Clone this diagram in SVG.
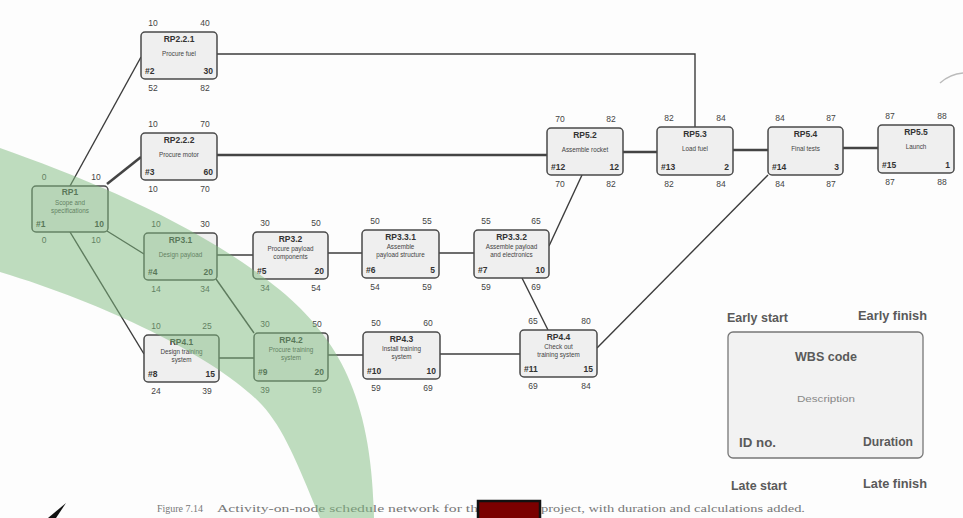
<svg xmlns="http://www.w3.org/2000/svg" width="963" height="518" viewBox="0 0 963 518">
<style>
.box{fill:#efefef;stroke:#4a4a4a;stroke-width:1.5}
.wbs{font-family:"Liberation Sans",Arial,sans-serif;font-size:8.5px;font-weight:bold;fill:#333;text-anchor:middle}
.desc{font-family:"Liberation Sans",Arial,sans-serif;font-size:6.3px;fill:#444;text-anchor:middle}
.idn{font-family:"Liberation Sans",Arial,sans-serif;font-size:8.5px;font-weight:bold;fill:#333}
.dur{font-family:"Liberation Sans",Arial,sans-serif;font-size:8.5px;font-weight:bold;fill:#333;text-anchor:end}
.num{font-family:"Liberation Sans",Arial,sans-serif;font-size:8.5px;fill:#444;text-anchor:middle}
.conn line,.conn polyline{stroke:#3c3c3c;stroke-width:1.4;fill:none}
.conn .thick{stroke:#444;stroke-width:2.6}
.leg{font-family:"Liberation Sans",Arial,sans-serif;font-size:12.5px;font-weight:bold;fill:#5a5a5a}
.cap{font-family:"Liberation Serif","Times New Roman",serif;font-size:10.5px;fill:#777}
</style>
<rect x="0" y="0" width="963" height="518" fill="#fdfdfd"/>

<g id="connectors" class="conn">
<line x1="70" y1="186" x2="141" y2="57"/>
<line class="thick" x1="107" y1="184" x2="141" y2="157"/>
<line x1="107" y1="231" x2="144" y2="254"/>
<line x1="70" y1="232" x2="144" y2="354"/>
<polyline points="217,54 695,54 695,127"/>
<line class="thick" x1="217" y1="155" x2="547" y2="155"/>
<line class="thick" x1="623" y1="152" x2="657" y2="152"/>
<line class="thick" x1="733" y1="150" x2="768" y2="150"/>
<line class="thick" x1="843" y1="148" x2="878" y2="148"/>
<line x1="217" y1="255" x2="253" y2="255"/>
<line x1="216" y1="279" x2="254" y2="333"/>
<line x1="328" y1="253" x2="362" y2="253"/>
<line x1="439" y1="253" x2="474" y2="253"/>
<line x1="549" y1="246" x2="582" y2="175"/>
<line x1="522" y1="278" x2="548" y2="330"/>
<line x1="219" y1="358" x2="254" y2="358"/>
<line x1="328" y1="355" x2="363" y2="355"/>
<line x1="440" y1="354" x2="520" y2="354"/>
<line x1="597" y1="348" x2="768" y2="175"/>
</g>

<g id="RP1">
<rect class="box" x="32" y="186" width="76" height="46" rx="4"/>
<text class="num" x="44" y="180">0</text><text class="num" x="96" y="180">10</text>
<text class="wbs" x="70" y="195">RP1</text>
<text class="desc" x="70" y="205">Scope and</text><text class="desc" x="70" y="213">specifications</text>
<text class="idn" x="36" y="227">#1</text><text class="dur" x="104" y="227">10</text>
<text class="num" x="44" y="243">0</text><text class="num" x="96" y="243">10</text>
</g>

<g id="RP2.2.1">
<rect class="box" x="141" y="32" width="76" height="47" rx="4" fill="#f7f7f7"/>
<text class="num" x="153" y="26">10</text><text class="num" x="205" y="26">40</text>
<text class="wbs" x="179" y="42">RP2.2.1</text>
<text class="desc" x="179" y="56">Procure fuel</text>
<text class="idn" x="145" y="74">#2</text><text class="dur" x="213" y="74">30</text>
<text class="num" x="153" y="91">52</text><text class="num" x="205" y="91">82</text>
</g>

<g id="RP2.2.2">
<rect class="box" x="141" y="133" width="76" height="47" rx="4"/>
<text class="num" x="153" y="127">10</text><text class="num" x="205" y="127">70</text>
<text class="wbs" x="179" y="143">RP2.2.2</text>
<text class="desc" x="179" y="157">Procure motor</text>
<text class="idn" x="145" y="175">#3</text><text class="dur" x="213" y="175">60</text>
<text class="num" x="153" y="192">10</text><text class="num" x="205" y="192">70</text>
</g>

<g id="RP3.1">
<rect class="box" x="144" y="233" width="73" height="47" rx="4"/>
<text class="num" x="156" y="227">10</text><text class="num" x="205" y="227">30</text>
<text class="wbs" x="180.5" y="243">RP3.1</text>
<text class="desc" x="180.5" y="257">Design payload</text>
<text class="idn" x="148" y="275">#4</text><text class="dur" x="213" y="275">20</text>
<text class="num" x="156" y="292">14</text><text class="num" x="205" y="292">34</text>
</g>

<g id="RP3.2">
<rect class="box" x="253" y="232" width="75" height="47" rx="4"/>
<text class="num" x="265" y="226">30</text><text class="num" x="316" y="226">50</text>
<text class="wbs" x="290.5" y="242">RP3.2</text>
<text class="desc" x="290.5" y="251">Procure payload</text><text class="desc" x="290.5" y="259">components</text>
<text class="idn" x="257" y="274">#5</text><text class="dur" x="324" y="274">20</text>
<text class="num" x="265" y="291">34</text><text class="num" x="316" y="291">54</text>
</g>

<g id="RP3.3.1">
<rect class="box" x="362" y="230" width="77" height="48" rx="4"/>
<text class="num" x="375" y="224">50</text><text class="num" x="427" y="224">55</text>
<text class="wbs" x="400.5" y="240">RP3.3.1</text>
<text class="desc" x="400.5" y="249">Assemble</text><text class="desc" x="400.5" y="257">payload structure</text>
<text class="idn" x="366" y="273">#6</text><text class="dur" x="435" y="273">5</text>
<text class="num" x="375" y="290">54</text><text class="num" x="427" y="290">59</text>
</g>

<g id="RP3.3.2">
<rect class="box" x="474" y="230" width="75" height="48" rx="4"/>
<text class="num" x="486" y="224">55</text><text class="num" x="536" y="224">65</text>
<text class="wbs" x="511.5" y="240">RP3.3.2</text>
<text class="desc" x="511.5" y="249">Assemble payload</text><text class="desc" x="511.5" y="257">and electronics</text>
<text class="idn" x="478" y="273">#7</text><text class="dur" x="545" y="273">10</text>
<text class="num" x="486" y="290">59</text><text class="num" x="536" y="290">69</text>
</g>

<g id="RP4.1">
<rect class="box" x="144" y="335" width="75" height="47" rx="4"/>
<text class="num" x="156" y="329">10</text><text class="num" x="207" y="329">25</text>
<text class="wbs" x="181.5" y="345">RP4.1</text>
<text class="desc" x="181.5" y="354">Design training</text><text class="desc" x="181.5" y="362">system</text>
<text class="idn" x="148" y="377">#8</text><text class="dur" x="215" y="377">15</text>
<text class="num" x="156" y="394">24</text><text class="num" x="207" y="394">39</text>
</g>

<g id="RP4.2">
<rect class="box" x="254" y="333" width="74" height="48" rx="4"/>
<text class="num" x="265" y="327">30</text><text class="num" x="317" y="327">50</text>
<text class="wbs" x="291" y="343">RP4.2</text>
<text class="desc" x="291" y="352">Procure training</text><text class="desc" x="291" y="360">system</text>
<text class="idn" x="258" y="375">#9</text><text class="dur" x="324" y="375">20</text>
<text class="num" x="265" y="393">39</text><text class="num" x="317" y="393">59</text>
</g>

<g id="RP4.3">
<rect class="box" x="363" y="332" width="77" height="47" rx="4"/>
<text class="num" x="376" y="326">50</text><text class="num" x="428" y="326">60</text>
<text class="wbs" x="401.5" y="342">RP4.3</text>
<text class="desc" x="401.5" y="351">Install training</text><text class="desc" x="401.5" y="359">system</text>
<text class="idn" x="367" y="374">#10</text><text class="dur" x="436" y="374">10</text>
<text class="num" x="376" y="391">59</text><text class="num" x="428" y="391">69</text>
</g>

<g id="RP4.4">
<rect class="box" x="520" y="330" width="77" height="47" rx="4"/>
<text class="num" x="533" y="324">65</text><text class="num" x="586" y="324">80</text>
<text class="wbs" x="558.5" y="340">RP4.4</text>
<text class="desc" x="558.5" y="349">Check out</text><text class="desc" x="558.5" y="357">training system</text>
<text class="idn" x="524" y="372">#11</text><text class="dur" x="593" y="372">15</text>
<text class="num" x="533" y="389">69</text><text class="num" x="586" y="389">84</text>
</g>

<g id="RP5.2">
<rect class="box" x="547" y="128" width="76" height="47" rx="4" fill="#e6e6e6"/>
<text class="num" x="560" y="122">70</text><text class="num" x="611" y="122">82</text>
<text class="wbs" x="585" y="138">RP5.2</text>
<text class="desc" x="585" y="152">Assemble rocket</text>
<text class="idn" x="551" y="170">#12</text><text class="dur" x="619" y="170">12</text>
<text class="num" x="560" y="187">70</text><text class="num" x="611" y="187">82</text>
</g>

<g id="RP5.3">
<rect class="box" x="657" y="127" width="76" height="48" rx="4"/>
<text class="num" x="669" y="121">82</text><text class="num" x="721" y="121">84</text>
<text class="wbs" x="695" y="137">RP5.3</text>
<text class="desc" x="695" y="151">Load fuel</text>
<text class="idn" x="661" y="170">#13</text><text class="dur" x="729" y="170">2</text>
<text class="num" x="669" y="187">82</text><text class="num" x="721" y="187">84</text>
</g>

<g id="RP5.4">
<rect class="box" x="768" y="127" width="75" height="48" rx="4" fill="#f7f7f7"/>
<text class="num" x="780" y="121">84</text><text class="num" x="831" y="121">87</text>
<text class="wbs" x="805.5" y="137">RP5.4</text>
<text class="desc" x="805.5" y="151">Final tests</text>
<text class="idn" x="772" y="170">#14</text><text class="dur" x="839" y="170">3</text>
<text class="num" x="780" y="187">84</text><text class="num" x="831" y="187">87</text>
</g>

<g id="RP5.5">
<rect class="box" x="878" y="125" width="76" height="48" rx="4" fill="#f7f7f7"/>
<text class="num" x="890" y="119">87</text><text class="num" x="942" y="119">88</text>
<text class="wbs" x="916" y="135">RP5.5</text>
<text class="desc" x="916" y="149">Launch</text>
<text class="idn" x="882" y="168">#15</text><text class="dur" x="950" y="168">1</text>
<text class="num" x="890" y="185">87</text><text class="num" x="942" y="185">88</text>
</g>

<g id="legend">
<text class="leg" x="727" y="322" textLength="61" lengthAdjust="spacingAndGlyphs">Early start</text>
<text class="leg" x="858" y="320" textLength="69" lengthAdjust="spacingAndGlyphs">Early finish</text>
<rect x="728" y="332" width="195" height="126" rx="5" fill="#f2f2f2" stroke="#777" stroke-width="1.3"/>
<text class="leg" x="795" y="361" textLength="62" lengthAdjust="spacingAndGlyphs" fill="#444">WBS code</text>
<text x="797" y="402" font-family="Liberation Sans, Arial, sans-serif" font-size="9.5" fill="#888" textLength="58" lengthAdjust="spacingAndGlyphs">Description</text>
<text class="leg" x="739" y="447" textLength="37" lengthAdjust="spacingAndGlyphs">ID no.</text>
<text class="leg" x="863" y="446" textLength="50" lengthAdjust="spacingAndGlyphs">Duration</text>
<text class="leg" x="731" y="490" textLength="56" lengthAdjust="spacingAndGlyphs">Late start</text>
<text class="leg" x="863" y="488" textLength="64" lengthAdjust="spacingAndGlyphs">Late finish</text>
</g>

<g id="caption">
<text class="cap" x="157" y="512" textLength="46" lengthAdjust="spacingAndGlyphs">Figure 7.14</text>
<text class="cap" x="217" y="512" textLength="268" lengthAdjust="spacingAndGlyphs">Activity-on-node schedule network for the</text>
<text class="cap" x="541" y="512" textLength="264" lengthAdjust="spacingAndGlyphs">project, with duration and calculations added.</text>
<rect x="478" y="501" width="62" height="19" fill="#7a0000" stroke="#111" stroke-width="2.5"/>
</g>

<path d="M0,148 C90,180 200,225 280,290 C340,340 372,400 374,518 L320,518 C300,470 285,430 262,405 C220,360 110,305 0,272 Z" fill="#80bb80" fill-opacity="0.5"/>
<path d="M940,83 Q950,74 963,73" fill="none" stroke="#bbb" stroke-width="1.5"/>
<polygon points="66,503 48,518 56,518" fill="#111"/>
</svg>
